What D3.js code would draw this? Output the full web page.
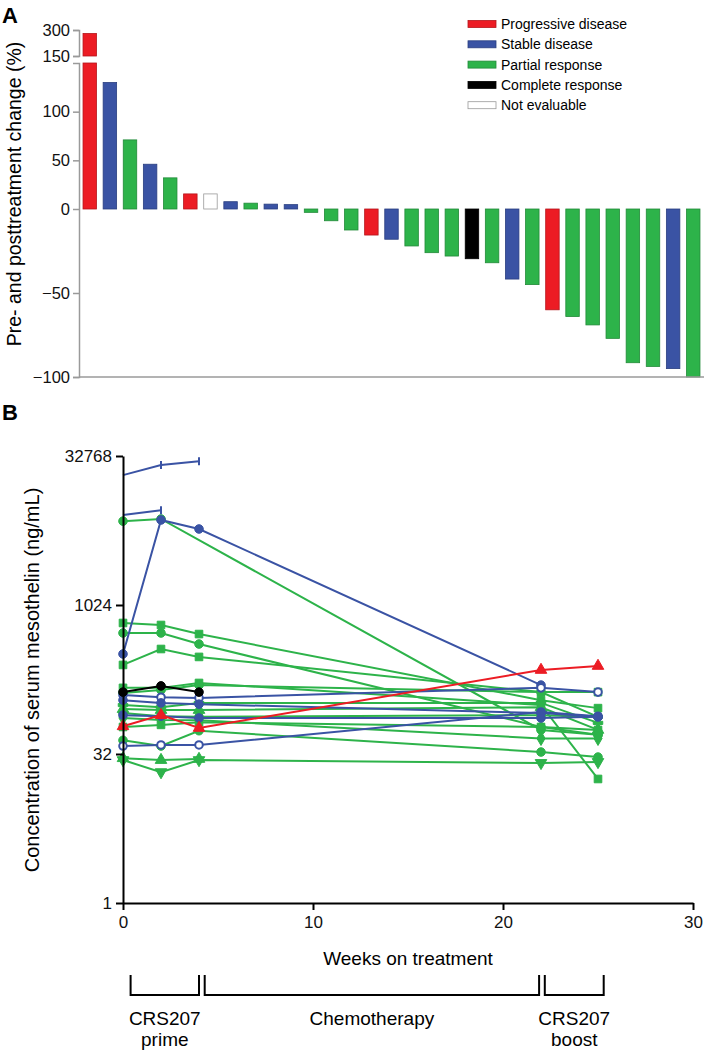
<!DOCTYPE html>
<html>
<head>
<meta charset="utf-8">
<script src="https://cdn.jsdelivr.net/npm/d3@7"></script>
<style>
  html, body { margin: 0; padding: 0; background: #fff; }
  svg { display: block; font-family: "Liberation Sans", Arial, Helvetica, sans-serif; }
</style>
</head>
<body>
<svg id="chart" width="709" height="1050"></svg>
<script>
// ---------- Panel A data ----------
const barChange = [280, 130, 71, 46, 32, 15.5, 15.5, 7.5, 6, 5, 4.5, -2, -7, -12.5, -15.5, -18,
  -22, -26, -28, -29.6, -32, -41.7, -45, -60, -64, -69, -77, -91.5, -93.7, -95, -100];
const barResponse = ["PD", "SD", "PR", "SD", "PR", "PD", "NE", "SD", "PR", "SD", "SD", "PR", "PR", "PR", "PD", "SD",
  "PR", "PR", "PR", "CR", "PR", "SD", "PR", "PD", "PR", "PR", "PR", "PR", "PR", "SD", "PR"];
const responseKeys = ["PD", "SD", "PR", "CR", "NE"];
const responseLabels = ["Progressive disease", "Stable disease", "Partial response", "Complete response", "Not evaluable"];
const lowerTicksA = [-100, -50, 0, 50, 100];
const upperTicksA = [150, 300];

// ---------- Panel B data ----------
const weeks = [0, 2, 4, 22, 25];
const yTicksB = [1, 32, 1024, 32768];
const xTicksB = [0, 10, 20, 30];
const patientResponse = [
  "PR", "PR", "PR", "PR", "PR", "PR", "PR", "PR", "PR", "PR", "PR", "PR", "PR", "PR",
  "SD", "SD", "SD", "SD", "SD", "SD", "SD", "PD", "CR"];
const patientMarker = [
  "circle", "square", "circle", "square", "square", "circle", "cross", "triangle", "circle", "square", "circle", "triangle", "triangleDown", "diamond",
  "tick", "tick", "circle", "circleOpen", "circle", "circleOpen", "circle", "triangle", "circle"];
const patientValues = [
  [7200, 7570, null, 56, 50],
  [674, 643, 521, 112, 93],
  [534, 534, 413, 60, 50],
  [254, 368, 306, 135, 135],
  [149, 149, 167, 100, 17.9],
  [132, 142, 159, 135, 76],
  [100, 95, 105, 105, 66],
  [91, 89, 89, 95, 56],
  [83, 77, 76, 79, 76],
  [60, 63, 67, 60, 56],
  [44, 38.5, 55, 33.5, 29.8],
  [29, 27.8, 28.5, null, null],
  [27.8, 21, 27.8, 26, 26.6],
  [74, 70.6, 70, 46, 46],
  [21000, 26600, 29000, null, null],
  [8300, 9300, null, null, null],
  [328, 7400, 6000, 159, null],
  [126, 120, 118, 149, 135],
  [79, 77, 74, 74, 76],
  [38.5, 39.5, 39.5, 85, 77],
  [112, 105, 102, 83, 76],
  [61, 79, 58.6, 226, 248],
  [135, 156, 135, null, null]
];
const phaseNames = [["CRS207", "prime"], ["Chemotherapy"], ["CRS207", "boost"]];
const phaseStart = [0.4, 4.3, 22.2];
const phaseEnd = [4.0, 21.9, 25.3];

// ---------- styles ----------
const fill = {PD: "#ec1c24", SD: "#3a53a4", PR: "#2db34a", CR: "#000000", NE: "#ffffff"};
const edge = {PD: "#b5161c", SD: "#2a3f80", PR: "#228a39", CR: "#000000", NE: "#9a9a9a"};
const lineColor = {PD: "#ec1c24", SD: "#3a53a4", PR: "#2db34a", CR: "#000000"};

const svg = d3.select("#chart");

// ================= PANEL A =================
svg.append("text").attr("x", 2).attr("y", 23).attr("font-size", 22).attr("font-weight", "bold").text("A");

const xA = d3.scaleBand().domain(d3.range(barChange.length)).range([79, 704]).paddingInner(0.33).paddingOuter(0.2);
const yLow = d3.scaleLinear().domain([-100, 0, 150]).range([377, 209, 63]);
const yTop = d3.scaleLinear().domain([150, 300]).range([56, 30]);
const grey = "#9a9a9a";

const gA = svg.append("g");
gA.selectAll("rect.low").data(barChange).join("rect").attr("class", "low")
  .attr("x", (d, i) => xA(i))
  .attr("width", xA.bandwidth())
  .attr("y", d => yLow(Math.max(0, Math.min(d, 150))))
  .attr("height", d => Math.abs(yLow(Math.min(d, 150)) - yLow(0)))
  .attr("fill", (d, i) => fill[barResponse[i]])
  .attr("stroke", (d, i) => edge[barResponse[i]])
  .attr("stroke-width", 0.8);
gA.selectAll("rect.top").data(barChange.map((d, i) => ({d, i})).filter(o => o.d > 150)).join("rect").attr("class", "top")
  .attr("x", o => xA(o.i))
  .attr("width", xA.bandwidth())
  .attr("y", o => yTop(o.d))
  .attr("height", o => yTop(150) - yTop(o.d))
  .attr("fill", o => fill[barResponse[o.i]])
  .attr("stroke", o => edge[barResponse[o.i]])
  .attr("stroke-width", 0.8);

function styleAxisA(g) {
  g.selectAll("path, line").attr("stroke", grey).attr("stroke-width", 1.5);
  g.selectAll("text").attr("font-size", 16.5).attr("fill", "#111")
    .attr("font-family", "'Liberation Sans', Arial, sans-serif");
}
const axLow = svg.append("g").attr("transform", "translate(79,0)")
  .call(d3.axisLeft(yLow).tickValues(lowerTicksA).tickSize(6).tickSizeOuter(6)
    .tickFormat(d => d < 0 ? "\u2212" + Math.abs(d) : d));
styleAxisA(axLow);
const axTop = svg.append("g").attr("transform", "translate(79,0)")
  .call(d3.axisLeft(yTop).tickValues(upperTicksA).tickSize(6).tickSizeOuter(6));
styleAxisA(axTop);
svg.append("line").attr("x1", 79).attr("x2", 704).attr("y1", yLow(-100)).attr("y2", yLow(-100))
  .attr("stroke", grey).attr("stroke-width", 1.5);

svg.append("text")
  .attr("transform", "translate(21," + 194 + ") rotate(-90)")
  .attr("text-anchor", "middle").attr("font-size", 19.5)
  .text("Pre- and posttreatment change (%)");

// legend
const leg = svg.append("g");
responseKeys.forEach((k, i) => {
  const cy = 24 + i * 20.3;
  leg.append("rect").attr("x", 468).attr("y", cy - 3.5).attr("width", 28).attr("height", 7)
    .attr("fill", fill[k]).attr("stroke", edge[k]).attr("stroke-width", 0.8);
  leg.append("text").attr("x", 501).attr("y", cy + 5).attr("font-size", 14).text(responseLabels[i]);
});

// ================= PANEL B =================
svg.append("text").attr("x", 2).attr("y", 420).attr("font-size", 22).attr("font-weight", "bold").text("B");

const xB = d3.scaleLinear().domain([0, 30]).range([123, 693]);
const yB = d3.scaleLog().base(2).domain([1, 32768]).range([903, 456]);

const gL = svg.append("g");
const order = ["PR", "SD", "PD", "CR"];
const line = d3.line().x(p => xB(p.w)).y(p => yB(p.v));
const sym = {
  circle: d3.symbolCircle, circleOpen: d3.symbolCircle, square: d3.symbolSquare,
  triangle: d3.symbolTriangle, triangleDown: d3.symbolTriangle, diamond: d3.symbolDiamond, cross: d3.symbolCross
};

order.forEach(resp => {
  patientValues.forEach((vals, i) => {
    if (patientResponse[i] !== resp) return;
    const pts = vals.map((v, j) => ({w: weeks[j], v})).filter(p => p.v != null);
    const col = lineColor[resp];
    gL.append("path").datum(pts).attr("d", line)
      .attr("fill", "none").attr("stroke", col).attr("stroke-width", 2);
    const m = patientMarker[i];
    pts.forEach(p => {
      const px = xB(p.w), py = yB(p.v);
      if (m === "tick") {
        if (p.w > 0) gL.append("line").attr("x1", px).attr("x2", px).attr("y1", py - 4).attr("y2", py + 4)
          .attr("stroke", col).attr("stroke-width", 2);
        return;
      }
      const open = m === "circleOpen";
      gL.append("path")
        .attr("d", d3.symbol().type(sym[m]).size(m === "cross" ? 50 : (open ? 45 : 58))())
        .attr("transform", "translate(" + px + "," + py + ")" + (m === "triangleDown" ? " rotate(180)" : ""))
        .attr("fill", open ? "#fff" : col)
        .attr("stroke", col).attr("stroke-width", open ? 2 : 1);
    });
  });
});

function styleAxisB(g) {
  g.selectAll("path, line").attr("stroke", "#000").attr("stroke-width", 2);
  g.selectAll("text").attr("font-size", 17).attr("fill", "#111")
    .attr("font-family", "'Liberation Sans', Arial, sans-serif");
}
const axY = svg.append("g").attr("transform", "translate(123,0)")
  .call(d3.axisLeft(yB).tickValues(yTicksB).tickFormat(d3.format("d")).tickSize(7).tickSizeOuter(0).tickPadding(4));
styleAxisB(axY);
const axX = svg.append("g").attr("transform", "translate(0,903)")
  .call(d3.axisBottom(xB).tickValues(xTicksB).tickSize(7).tickSizeOuter(0).tickPadding(6));
styleAxisB(axX);

svg.append("text").attr("x", 408).attr("y", 965).attr("text-anchor", "middle").attr("font-size", 19)
  .text("Weeks on treatment");
svg.append("text")
  .attr("transform", "translate(39,680) rotate(-90)")
  .attr("text-anchor", "middle").attr("font-size", 20)
  .text("Concentration of serum mesothelin (ng/mL)");

// treatment phase brackets
phaseNames.forEach((names, i) => {
  const x1 = xB(phaseStart[i]), x2 = xB(phaseEnd[i]);
  svg.append("path").attr("d", `M${x1},975V995H${x2}V975`)
    .attr("fill", "none").attr("stroke", "#000").attr("stroke-width", 2);
  names.forEach((t, k) => {
    svg.append("text").attr("x", (x1 + x2) / 2).attr("y", 1025 + k * 21)
      .attr("text-anchor", "middle").attr("font-size", 19).text(t);
  });
});
</script>
</body>
</html>
